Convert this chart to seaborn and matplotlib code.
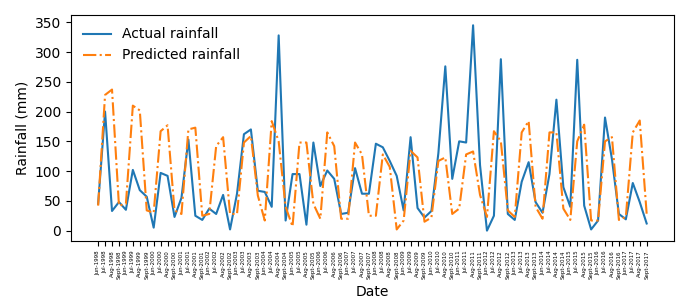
import numpy as np
import pandas as pd
import matplotlib
matplotlib.use('Agg')
import matplotlib.pyplot as plt
import seaborn as sns

# Months Jun-Sept for each year 1998-2017
months = ['Jun', 'Jul', 'Aug', 'Sept']
years = list(range(1998, 2018))
dates = [f'{m}-{y}' for y in years for m in months]

actual = [45, 200, 33, 48, 35, 102, 68, 57, 5, 97, 92, 23,
          55, 153, 25, 18, 37, 28, 60, 2, 62, 162, 170, 67,
          65, 40, 328, 17, 95, 95, 10, 148, 75, 101, 87, 28,
          30, 105, 62, 62, 146, 140, 117, 92, 34, 157, 38, 22,
          33, 130, 276, 87, 150, 148, 345, 110, 0, 25, 288, 28,
          18, 82, 115, 48, 30, 95, 220, 73, 40, 287, 42, 2,
          17, 190, 120, 28, 19, 80, 48, 12]

predicted = [42, 228, 237, 42, 45, 210, 202, 34, 30, 167, 177, 34,
             28, 170, 173, 25, 28, 142, 157, 28, 28, 148, 159, 59,
             17, 184, 150, 40, 7, 148, 148, 45, 20, 165, 142, 20,
             20, 148, 128, 25, 25, 128, 107, 2, 17, 134, 123, 15,
             22, 117, 123, 28, 37, 128, 133, 60, 23, 167, 150, 34,
             23, 165, 184, 40, 20, 165, 165, 37, 18, 150, 178, 17,
             17, 150, 157, 18, 23, 165, 185, 28]

df = pd.DataFrame({'idx': np.arange(len(dates)), 'Date': dates,
                   'Actual rainfall': actual, 'Predicted rainfall': predicted})

fig, ax = plt.subplots(figsize=(7, 3), dpi=100)
sns.lineplot(data=df, x='idx', y='Actual rainfall', ax=ax,
             color='#1f77b4', label='Actual rainfall')
sns.lineplot(data=df, x='idx', y='Predicted rainfall', ax=ax,
             color='#ff7f0e', linestyle='-.', label='Predicted rainfall')

ax.set_xticks(df['idx'])
ax.set_xticklabels(dates, rotation=90, fontsize=4)
ax.set_yticks(range(0, 351, 50))
ax.set_xlabel('Date')
ax.set_ylabel('Rainfall (mm)')
ax.legend(loc='upper left', frameon=False)

plt.subplots_adjust(left=0.101, right=0.963, top=0.95, bottom=0.197)
plt.savefig('out.png')
plt.close()
